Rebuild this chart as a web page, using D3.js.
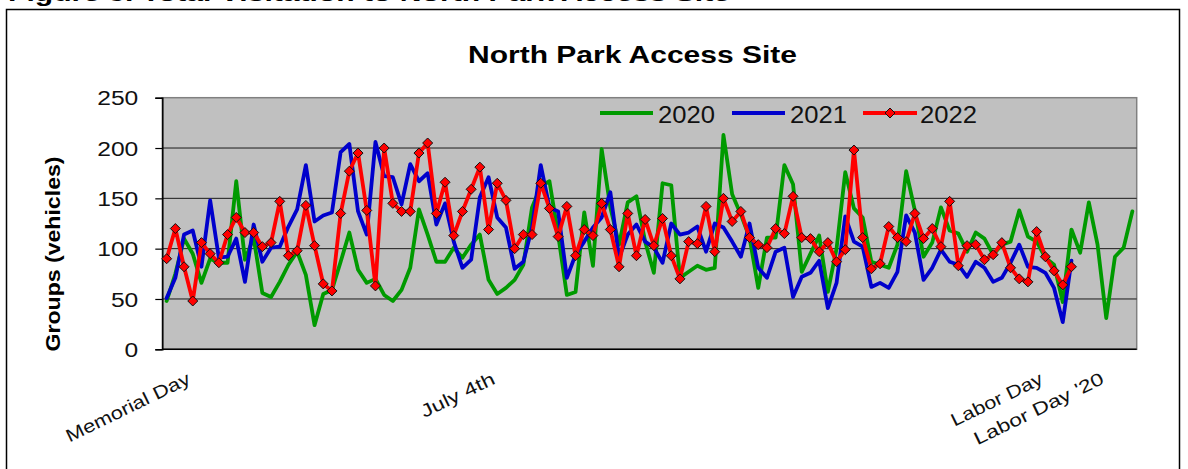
<!DOCTYPE html>
<html><head><meta charset="utf-8">
<script src="https://cdn.jsdelivr.net/npm/d3@7"></script>
<style>
body{margin:0;background:#fff;}
svg{display:block;font-family:"Liberation Sans",Arial,sans-serif;}
</style>
</head><body>
<svg id="c" width="1188" height="469"></svg>
<script>
// ---- data ----
const dayCount = 112;                       // number of daily categories on the x axis
const tickDays = [3, 38, 101, 108];
const tickLabels = ["Memorial Day", "July 4th", "Labor Day", "Labor Day '20"];
const yTicks = [0, 50, 100, 150, 200, 250];
const seriesNames = ["2020", "2021", "2022"];
const seriesColors = ["#009a00", "#0000cc", "#ff0000"];

const v2020 = [48,75,110,95,66,90,86,86,167,89,111,56,52,67,84,97,74,24,55,59,
  87,116,79,66,70,54,48,59,81,139,114,87,87,101,91,104,114,69,55,61,
  69,84,141,162,167,114,54,57,136,83,199,141,104,146,152,107,76,165,163,71,
  77,83,79,81,213,154,134,111,61,111,111,183,164,77,95,113,57,100,176,140,
  131,87,84,81,104,177,138,92,106,141,118,115,97,116,110,94,104,107,138,112,
  107,91,84,47,119,96,146,104,31,92,101,137];
const v2021 = [51,71,114,118,82,148,91,92,110,67,124,87,101,102,122,139,183,127,133,136,
  196,204,137,114,206,172,171,144,184,167,175,124,145,107,81,89,151,171,131,121,
  80,87,121,183,141,137,71,94,107,121,131,156,91,114,124,107,101,86,125,114,
  116,122,97,125,121,107,92,125,81,71,97,101,52,72,76,88,41,66,132,107,
  102,62,66,61,77,133,116,69,81,99,87,84,72,87,81,67,71,86,104,82,
  81,76,61,27,88];
const v2022 = [90,120,82,48,106,95,86,114,131,116,116,102,106,147,93,98,143,103,65,58,
  135,177,195,138,63,200,145,137,137,195,205,135,166,113,137,159,181,119,165,148,
  100,114,114,165,140,112,142,93,119,113,145,119,82,135,93,129,103,130,93,70,
  107,105,142,97,150,127,137,111,104,101,120,115,152,111,110,97,106,87,99,198,
  111,80,85,122,111,107,135,110,120,102,147,83,103,104,89,94,106,81,70,67,
  117,92,78,64,82];
const seriesValues = [v2020, v2021, v2022];

// ---- layout ----
const svg = d3.select("#c");
const plot = {left: 162.3, right: 1136.7, top: 97.7, bottom: 349.3};

const x = d3.scalePoint().domain(d3.range(dayCount)).range([plot.left, plot.right]).padding(0.5);
const y = d3.scaleLinear().domain([0, 250]).range([plot.bottom, plot.top]);

// cut-off caption at very top (only the bottom of the glyphs is visible in the source)
svg.append("text").attr("x", 8).attr("y", 1)
  .attr("font-weight", "bold").attr("font-size", 22)
  .attr("textLength", 722).attr("lengthAdjust", "spacingAndGlyphs")
  .text("Figure 3. Total Visitation to North Park Access Site");

// outer frame
svg.append("rect").attr("x", 6.5).attr("y", 9.5).attr("width", 1173).attr("height", 480)
  .attr("fill", "#fff").attr("stroke", "#000").attr("stroke-width", 1.5);

// title
svg.append("text").attr("x", 632.5).attr("y", 62.5).attr("text-anchor", "middle")
  .attr("font-weight", "bold").attr("font-size", 23)
  .attr("textLength", 329).attr("lengthAdjust", "spacingAndGlyphs")
  .text("North Park Access Site");

// plot background
svg.append("rect").attr("x", plot.left).attr("y", plot.top)
  .attr("width", plot.right - plot.left).attr("height", plot.bottom - plot.top)
  .attr("fill", "#c0c0c0").attr("stroke", "#808080").attr("stroke-width", 1.5);

// gridlines
svg.append("g").selectAll("line").data(yTicks.filter(t => t > 0 && t < 250)).join("line")
  .attr("x1", plot.left).attr("x2", plot.right)
  .attr("y1", d => y(d)).attr("y2", d => y(d))
  .attr("stroke", "#1a1a1a").attr("stroke-width", 1);

// y axis
const yAxis = d3.axisLeft(y).tickValues(yTicks).tickSize(7).tickPadding(17);
const gy = svg.append("g").attr("transform", `translate(${plot.left},0)`).call(yAxis);
gy.select(".domain").attr("stroke", "#000").attr("stroke-width", 1.5);
gy.selectAll(".tick line").attr("stroke", "#000").attr("stroke-width", 1.2);
gy.selectAll(".tick text").attr("font-size", 19.5).attr("fill", "#111")
  .attr("font-family", "Liberation Sans, Arial, sans-serif")
  .attr("dy", "0.36em")
  .attr("textLength", d => String(d).length * 13.7).attr("lengthAdjust", "spacingAndGlyphs");

// x axis line
svg.append("line").attr("x1", plot.left).attr("x2", plot.right)
  .attr("y1", plot.bottom).attr("y2", plot.bottom)
  .attr("stroke", "#000").attr("stroke-width", 1.5);

// x labels (rotated)
const labelLen = {"Memorial Day": 136, "July 4th": 80, "Labor Day": 100, "Labor Day '20": 142};
svg.append("g").selectAll("text").data(tickDays).join("text")
  .attr("transform", d => `translate(${x(d) - 1},383) rotate(-26)`)
  .attr("text-anchor", "end").attr("font-size", 18).attr("fill", "#111")
  .attr("textLength", (d, i) => labelLen[tickLabels[i]]).attr("lengthAdjust", "spacingAndGlyphs")
  .text((d, i) => tickLabels[i]);

// y axis title
svg.append("text").attr("transform", "translate(60,254) rotate(-90)")
  .attr("text-anchor", "middle").attr("font-weight", "bold").attr("font-size", 21)
  .attr("textLength", 195).attr("lengthAdjust", "spacingAndGlyphs")
  .text("Groups (vehicles)");

// series lines
const line = d3.line().x((d, i) => x(i)).y(d => y(d));
seriesValues.forEach((vals, s) => {
  svg.append("path").datum(vals).attr("d", line)
    .attr("fill", "none").attr("stroke", seriesColors[s]).attr("stroke-width", 3.8)
    .attr("stroke-linejoin", "round").attr("stroke-linecap", "round");
});
const diamond = "M0,-5L5,0L0,5L-5,0Z";
svg.append("g").selectAll("path").data(v2022).join("path")
  .attr("d", diamond)
  .attr("transform", (d, i) => `translate(${x(i)},${y(d)})`)
  .attr("fill", "#ff0000").attr("stroke", "#111").attr("stroke-width", 1);

// legend
const legend = [
  {x1: 600, x2: 653, tx: 658, marker: false},
  {x1: 732, x2: 785, tx: 790, marker: false},
  {x1: 863, x2: 917, tx: 920, marker: true}
];
const ly = 113;
legend.forEach((L, s) => {
  svg.append("line").attr("x1", L.x1).attr("x2", L.x2).attr("y1", ly).attr("y2", ly)
    .attr("stroke", seriesColors[s]).attr("stroke-width", 3.8);
  if (L.marker) {
    svg.append("path").attr("d", diamond)
      .attr("transform", `translate(${(L.x1 + L.x2) / 2},${ly})`)
      .attr("fill", "#ff0000").attr("stroke", "#111").attr("stroke-width", 1);
  }
  svg.append("text").attr("x", L.tx).attr("y", 122.5).attr("font-size", 24).attr("fill", "#111")
    .attr("textLength", 57).attr("lengthAdjust", "spacingAndGlyphs")
    .text(seriesNames[s]);
});
</script>
</body></html>
